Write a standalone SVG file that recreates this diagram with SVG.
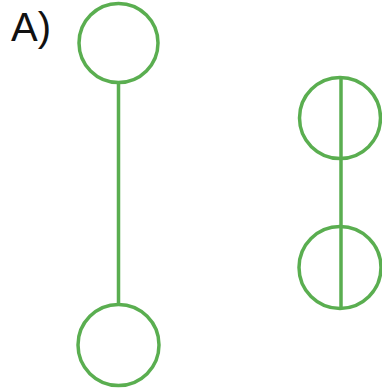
<svg xmlns="http://www.w3.org/2000/svg" width="382" height="391" viewBox="0 0 382 391">
<defs>
<style>
.node{fill:none;stroke:#5aae50;stroke-width:3.5}
.edge{stroke:#5aae50;stroke-width:3.5;fill:none}
</style>
</defs>
<rect x="0" y="0" width="382" height="391" fill="#ffffff"/>
<text x="11" y="41" font-family="Liberation Sans, Arial, sans-serif" font-size="40" fill="#111111">A)</text>
<g id="connectors">
<path class="edge" d="M118.5 83 V304"/>
<path class="edge" d="M341 77 V309"/>
</g>
<g id="nodeA1"><circle class="node" cx="118.5" cy="43" r="39.5"/></g>
<g id="nodeA2"><circle class="node" cx="118.5" cy="345" r="40.5"/></g>
<g id="nodeB1"><circle class="node" cx="340" cy="118" r="40.5"/></g>
<g id="nodeB2"><circle class="node" cx="340" cy="267.5" r="41"/></g>
</svg>
